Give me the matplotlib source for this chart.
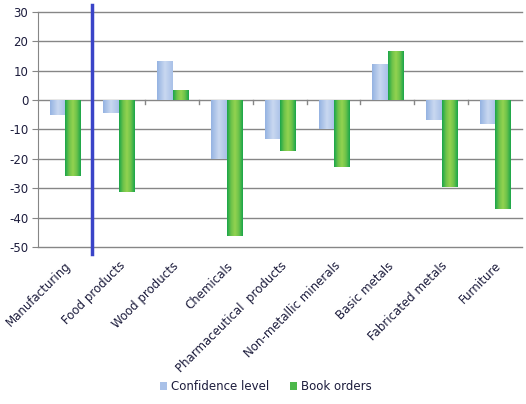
"""
Business survey chart: confidence level vs book orders by industry.
"""
import matplotlib

matplotlib.use("Agg")
import matplotlib.pyplot as plt
import numpy as np
from matplotlib.colors import LinearSegmentedColormap
from matplotlib.patches import Patch

# ------------------------------------------------------------
# Data
# ------------------------------------------------------------
categories = [
    "Manufacturing",
    "Food products",
    "Wood products",
    "Chemicals",
    "Pharmaceutical  products",
    "Non-metallic minerals",
    "Basic metals",
    "Fabricated metals",
    "Furniture",
]
confidence_level = [-5.0, -4.5, 13.4, -20.1, -13.3, -9.7, 12.4, -6.9, -8.2]
book_orders = [-26.0, -31.4, 3.3, -46.3, -17.4, -22.9, 16.8, -29.7, -37.1]
y_ticks = [-50, -40, -30, -20, -10, 0, 10, 20, 30]

# ------------------------------------------------------------
# Style
# ------------------------------------------------------------
plt.rcParams["font.family"] = ["DejaVu Sans"]
plt.rcParams["axes.unicode_minus"] = False
text_color = "#1c1c3c"
grid_color = "#868686"

blue_cmap = LinearSegmentedColormap.from_list(
    "blue", ["#95b3e2", "#c9d8f0", "#a9c1e8"]
)
green_cmap = LinearSegmentedColormap.from_list(
    "green", ["#1aa64a", "#6cc24a", "#93d350", "#6cc24a", "#1aa64a"]
)

fig = plt.figure(figsize=(5.26, 4.04), dpi=100)
ax = fig.add_axes([0.072, 0.389, 0.92, 0.581])

x = np.arange(len(categories))
width = 0.29


def gradient_bars(xs, values, cmap):
    bars = ax.bar(xs, values, width, color="none", edgecolor="none", zorder=3)
    grad = np.linspace(0, 1, 64).reshape(1, -1)
    for bar in bars:
        x0 = bar.get_x()
        x1 = x0 + bar.get_width()
        y0 = bar.get_y()
        y1 = y0 + bar.get_height()
        im = ax.imshow(
            grad,
            cmap=cmap,
            extent=(x0, x1, min(y0, y1), max(y0, y1)),
            aspect="auto",
            zorder=3,
            interpolation="bilinear",
        )
        im.set_clip_path(bar)
    return bars


gradient_bars(x - width / 2 + 0.01, confidence_level, blue_cmap)
gradient_bars(x + width / 2 + 0.01, book_orders, green_cmap)

ax.set_xlim(-0.5, len(categories) - 0.5)
ax.set_ylim(-50, 30)
ax.set_yticks(y_ticks)

# horizontal gridlines (drawn unclipped so the edge lines stay full width)
for yv in y_ticks:
    ax.axhline(yv, color=grid_color, linewidth=1.0, zorder=1, clip_on=False)

# category-boundary tick marks below the zero line
for b in np.arange(0.5, len(categories) - 0.5, 1.0):
    ax.plot([b, b], [0, -1.3], color=grid_color, linewidth=1.0, zorder=2)

for side in ["top", "right", "bottom"]:
    ax.spines[side].set_visible(False)
ax.spines["left"].set_color(grid_color)

ax.tick_params(axis="y", colors=grid_color, labelcolor=text_color,
               labelsize=8.5, length=4, pad=3)
ax.tick_params(axis="x", length=0, pad=9)
ax.set_xticks(x)
ax.set_xticklabels(categories, rotation=45, ha="right",
                   rotation_mode="anchor", color=text_color, fontsize=8.5)

# marker line after the overall manufacturing figure
ax.plot([0.5, 0.5], [32.3, -52.6], color="#3a44c8", linewidth=2.5,
        clip_on=False, zorder=4)

handles = [
    Patch(facecolor="#a9c1e8", edgecolor="none", label="Confidence level"),
    Patch(facecolor="#4cb84a", edgecolor="none", label="Book orders"),
]
fig.legend(handles=handles, loc="lower center", bbox_to_anchor=(0.505, 0.0),
           ncol=2, frameon=False, fontsize=8.5, handlelength=0.6,
           handleheight=0.6, handletextpad=0.3, columnspacing=1.8,
           labelcolor=text_color)

fig.savefig("out.png", dpi=100)
